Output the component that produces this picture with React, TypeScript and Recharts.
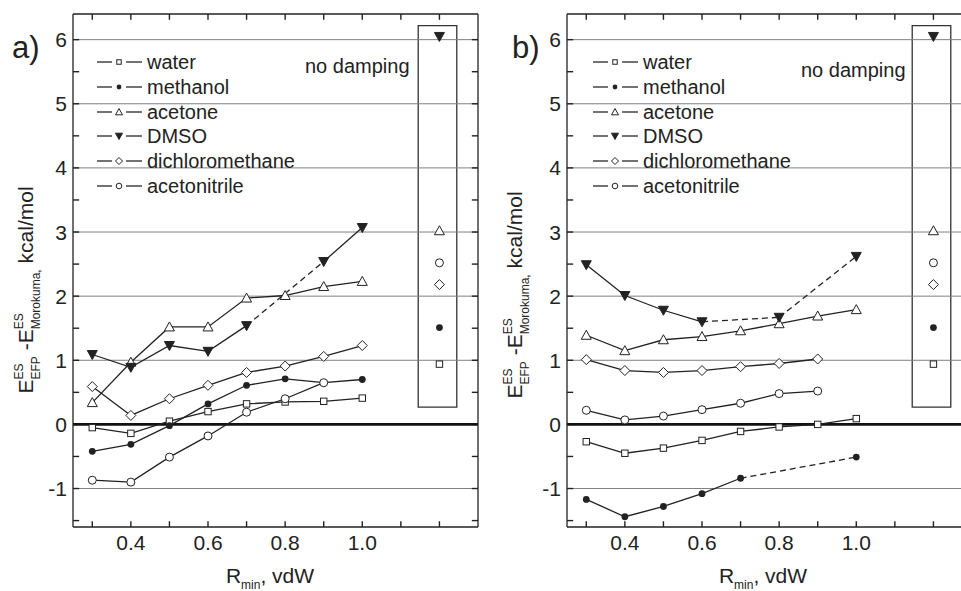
import React from "react";
import { ComposedChart, Line, XAxis, YAxis, ReferenceLine, ReferenceArea, Legend } from "recharts";

const ink = "#222";
const font = "'Liberation Sans', Arial, Helvetica, sans-serif";

const rMin = [0.3, 0.4, 0.5, 0.6, 0.7, 0.8, 0.9, 1.0];
const solvents = ["water", "methanol", "acetone", "DMSO", "dichloromethane", "acetonitrile"];
const markerKinds = ["square", "dot", "tri", "tridown", "diamond", "circle"];

// panel a)
const waterA = [-0.05, -0.14, 0.05, 0.2, 0.32, 0.35, 0.36, 0.41];
const methanolA = [-0.42, -0.31, -0.02, 0.32, 0.61, 0.71, 0.65, 0.7];
const acetoneA = [0.34, 0.97, 1.52, 1.52, 1.97, 2.01, 2.15, 2.23];
const dmsoA = [1.09, 0.89, 1.23, 1.14, 1.54, null, 2.54, 3.07];
const dichloromethaneA = [0.59, 0.14, 0.4, 0.61, 0.81, 0.91, 1.06, 1.23];
const acetonitrileA = [-0.87, -0.9, -0.51, -0.18, 0.19, 0.4, 0.65, null];

// panel b)
const waterB = [-0.27, -0.45, -0.37, -0.25, -0.11, -0.04, 0.0, 0.09];
const methanolB = [-1.17, -1.44, -1.28, -1.08, -0.84, null, null, -0.51];
const acetoneB = [1.39, 1.15, 1.32, 1.37, 1.46, 1.57, 1.69, 1.79];
const dmsoB = [2.49, 2.01, 1.78, 1.6, null, 1.67, null, 2.62];
const dichloromethaneB = [1.01, 0.84, 0.81, 0.84, 0.9, 0.95, 1.02, null];
const acetonitrileB = [0.22, 0.07, 0.13, 0.23, 0.33, 0.48, 0.52, null];

// "no damping" values, same order as solvents
const noDampingX = 1.2;
const noDampingValues = [0.94, 1.51, 3.02, 6.05, 2.18, 2.52];

const xTicks = [0.3, 0.4, 0.5, 0.6, 0.7, 0.8, 0.9, 1.0, 1.1, 1.2];
const xTickLabels = [0.4, 0.6, 0.8, 1.0];
const yTicks = [-1.5, -1, -0.5, 0, 0.5, 1, 1.5, 2, 2.5, 3, 3.5, 4, 4.5, 5, 5.5, 6];
const yGridLines = [-1, 1, 2, 3, 4, 5, 6];

const X_DOMAIN = [0.25, 1.3];
const Y_DOMAIN = [-1.6, 6.4];
// inward tick length (~6px) expressed in axis units
const X_TICK = 0.09;
const Y_TICK = 0.016;

const Marker = ({ kind, cx, cy, s = 1 }: { kind: string; cx: number; cy: number; s?: number }) => {
  const sw = 1;
  switch (kind) {
    case "square":
      return <rect x={cx - 3.2 * s} y={cy - 3.2 * s} width={6.4 * s} height={6.4 * s} fill="#fff" stroke={ink} strokeWidth={sw} />;
    case "dot":
      return <circle cx={cx} cy={cy} r={3.4 * s} fill={ink} />;
    case "tri":
      return (
        <polygon
          points={`${cx},${cy - 5 * s} ${cx + 5 * s},${cy + 4 * s} ${cx - 5 * s},${cy + 4 * s}`}
          fill="#fff"
          stroke={ink}
          strokeWidth={sw}
        />
      );
    case "tridown":
      return (
        <polygon points={`${cx - 5 * s},${cy - 4 * s} ${cx + 5 * s},${cy - 4 * s} ${cx},${cy + 5 * s}`} fill={ink} stroke={ink} strokeWidth={sw} />
      );
    case "diamond":
      return (
        <polygon
          points={`${cx},${cy - 5 * s} ${cx + 5 * s},${cy} ${cx},${cy + 5 * s} ${cx - 5 * s},${cy}`}
          fill="#fff"
          stroke={ink}
          strokeWidth={sw}
        />
      );
    default:
      return <circle cx={cx} cy={cy} r={4 * s} fill="#fff" stroke={ink} strokeWidth={sw} />;
  }
};

const toPoints = (vals: (number | null)[]) => rMin.map((x, i) => ({ x, y: vals[i] }));

// dashed pieces bridge missing points inside a series
const gapSegments = (vals: (number | null)[]) => {
  const segs: { x: number; y: number | null }[][] = [];
  let last = -1;
  vals.forEach((v, i) => {
    if (v == null) return;
    if (last >= 0 && i - last > 1) segs.push([{ x: rMin[last], y: vals[last] }, { x: rMin[i], y: v }]);
    last = i;
  });
  return segs;
};

const dotFor = (kind: string) => (p: any) => {
  const k = `${kind}-${p.index}-${p.cx}`;
  if (p.cx == null || p.cy == null || p.value == null) return <g key={k} />;
  return (
    <g key={k}>
      <Marker kind={kind} cx={p.cx} cy={p.cy} />
    </g>
  );
};

const XTick = ({ x, y, payload }: any) => {
  const v = payload.value;
  if (!xTickLabels.some((l) => Math.abs(l - v) < 1e-6)) return <g />;
  return (
    <text x={x} y={y} dy={13} textAnchor="middle" fontSize={21} fill={ink} fontFamily={font}>
      {v.toFixed(1)}
    </text>
  );
};

const YTick = ({ x, y, payload }: any) => {
  const v = payload.value;
  if (!Number.isInteger(v)) return <g />;
  return (
    <text x={x} y={y} dy={7.5} textAnchor="end" fontSize={21} fill={ink} fontFamily={font}>
      {v}
    </text>
  );
};

const YTitle = ({ x, y }: { x: number; y: number }) => (
  <text transform={`translate(${x},${y}) rotate(-90)`} textAnchor="middle" fontSize={21} fill={ink} fontFamily={font}>
    E
    <tspan fontSize={12} dy={-10}>
      ES
    </tspan>
    <tspan fontSize={12} dx={-16} dy={17}>
      EFP
    </tspan>
    <tspan dy={-7}> -E</tspan>
    <tspan fontSize={12} dy={-10}>
      ES
    </tspan>
    <tspan fontSize={12} dx={-16} dy={17}>
      Morokuma,
    </tspan>
    <tspan dy={-7}> kcal/mol</tspan>
  </text>
);

const XTitle = ({ x, y }: { x: number; y: number }) => (
  <text x={x} y={y} textAnchor="middle" fontSize={21} fill={ink} fontFamily={font}>
    R
    <tspan fontSize={12} dy={6}>
      min
    </tspan>
    <tspan dy={-6}>, vdW</tspan>
  </text>
);

interface PanelProps {
  tag: string;
  series: (number | null)[][];
  width: number;
  marginLeft: number;
  legendX: number;
  yTitle: { x: number; y: number };
  xTitle: { x: number; y: number };
  tagPos: { x: number; y: number };
  note: { x: number; y: number };
}

const Panel = ({ tag, series, width, marginLeft, legendX, yTitle, xTitle, tagPos, note }: PanelProps) => {
  const legendRows = [62, 87, 112, 136, 161, 186];
  const [x0, x1] = X_DOMAIN;
  const [y0, y1] = Y_DOMAIN;
  return (
    <ComposedChart width={width} height={591} margin={{ top: 12, right: 0, bottom: 34, left: marginLeft }}>
      <XAxis
        dataKey="x"
        type="number"
        domain={X_DOMAIN}
        ticks={xTicks}
        interval={0}
        tickSize={0}
        tickMargin={10}
        tick={<XTick />}
        tickLine={false}
        height={30}
        axisLine={{ stroke: ink, strokeWidth: 1.3 }}
        label={{ content: () => <XTitle x={xTitle.x} y={xTitle.y} /> }}
      />
      <XAxis
        xAxisId="top"
        orientation="top"
        type="number"
        domain={X_DOMAIN}
        tick={false}
        tickLine={false}
        height={2}
        axisLine={{ stroke: ink, strokeWidth: 1.3 }}
      />
      <YAxis
        type="number"
        domain={Y_DOMAIN}
        ticks={yTicks}
        interval={0}
        tickSize={0}
        tickMargin={6}
        tick={<YTick />}
        tickLine={false}
        width={60}
        axisLine={{ stroke: ink, strokeWidth: 1.3 }}
        label={{ content: () => <YTitle x={yTitle.x} y={yTitle.y} /> }}
      />
      <YAxis
        yAxisId="right"
        orientation="right"
        type="number"
        domain={Y_DOMAIN}
        tick={false}
        tickLine={false}
        width={2}
        axisLine={{ stroke: ink, strokeWidth: 1.3 }}
      />
      {yGridLines.map((v) => (
        <ReferenceLine key={v} y={v} stroke="#808080" strokeWidth={1} />
      ))}
      {/* inward tick marks on all four sides of the frame */}
      {xTicks.map((t) => (
        <ReferenceLine key={`xb${t}`} segment={[{ x: t, y: y0 }, { x: t, y: y0 + X_TICK }]} stroke={ink} strokeWidth={1.4} />
      ))}
      {xTicks.map((t) => (
        <ReferenceLine key={`xt${t}`} segment={[{ x: t, y: y1 }, { x: t, y: y1 - X_TICK }]} stroke={ink} strokeWidth={1.4} />
      ))}
      {yTicks.map((t) => (
        <ReferenceLine key={`yl${t}`} segment={[{ x: x0, y: t }, { x: x0 + Y_TICK, y: t }]} stroke={ink} strokeWidth={1.4} />
      ))}
      {yTicks.map((t) => (
        <ReferenceLine key={`yr${t}`} segment={[{ x: x1 - Y_TICK, y: t }, { x: x1, y: t }]} stroke={ink} strokeWidth={1.4} />
      ))}
      <ReferenceLine y={0} stroke="#111" strokeWidth={2.6} />
      <ReferenceArea x1={1.145} x2={1.245} y1={0.27} y2={6.22} fill="none" stroke="#333" strokeWidth={1.3} />
      {series.map((vals, si) =>
        gapSegments(vals).map((seg, gi) => (
          <Line
            key={`gap-${si}-${gi}`}
            data={seg}
            dataKey="y"
            stroke={ink}
            strokeWidth={1.3}
            strokeDasharray="6 4"
            dot={false}
            isAnimationActive={false}
            legendType="none"
          />
        ))
      )}
      {series.map((vals, si) => (
        <Line
          key={solvents[si]}
          name={solvents[si]}
          data={toPoints(vals)}
          dataKey="y"
          stroke={ink}
          strokeWidth={1.3}
          connectNulls={false}
          dot={dotFor(markerKinds[si])}
          isAnimationActive={false}
        />
      ))}
      {noDampingValues.map((v, si) => (
        <Line
          key={`nd-${si}`}
          data={[{ x: noDampingX, y: v }]}
          dataKey="y"
          stroke="none"
          dot={dotFor(markerKinds[si])}
          isAnimationActive={false}
          legendType="none"
        />
      ))}
      <Legend
        layout="vertical"
        align="center"
        verticalAlign="middle"
        wrapperStyle={{ left: 0, top: 0, width: width, height: 200 }}
        content={() => (
          <svg width={width} height={200} style={{ display: "block" }}>
            <text x={tagPos.x} y={tagPos.y} fontSize={31} fill={ink} fontFamily={font}>
              {tag}
            </text>
            <text x={note.x} y={note.y} fontSize={20} fill={ink} fontFamily={font}>
              no damping
            </text>
            {solvents.map((s, i) => (
              <g key={s}>
                <line x1={legendX} x2={legendX + 15} y1={legendRows[i]} y2={legendRows[i]} stroke="#444" strokeWidth={1.5} />
                <line x1={legendX + 29} x2={legendX + 45} y1={legendRows[i]} y2={legendRows[i]} stroke="#444" strokeWidth={1.5} />
                <Marker kind={markerKinds[i]} cx={legendX + 22} cy={legendRows[i]} s={0.7} />
                <text x={legendX + 50} y={legendRows[i] + 7} fontSize={20} fill={ink} fontFamily={font}>
                  {s}
                </text>
              </g>
            ))}
          </svg>
        )}
      />
    </ComposedChart>
  );
};

const seriesA = [waterA, methanolA, acetoneA, dmsoA, dichloromethaneA, acetonitrileA];
const seriesB = [waterB, methanolB, acetoneB, dmsoB, dichloromethaneB, acetonitrileB];

export default function App() {
  return (
    <div style={{ position: "absolute", left: 0, top: 0, width: 961, height: 591, overflow: "hidden", background: "#fff" }}>
      <div style={{ position: "absolute", left: 0, top: 0 }}>
        <Panel
          tag="a)"
          series={seriesA}
          width={480}
          marginLeft={13}
          legendX={97}
          yTitle={{ x: 33, y: 290 }}
          xTitle={{ x: 270, y: 583 }}
          tagPos={{ x: 12, y: 58 }}
          note={{ x: 305, y: 73 }}
        />
      </div>
      <div style={{ position: "absolute", left: 480, top: 0 }}>
        <Panel
          tag="b)"
          series={seriesB}
          width={494}
          marginLeft={27}
          legendX={113}
          yTitle={{ x: 42, y: 295 }}
          xTitle={{ x: 283, y: 583 }}
          tagPos={{ x: 32, y: 58 }}
          note={{ x: 321, y: 77 }}
        />
      </div>
    </div>
  );
}
